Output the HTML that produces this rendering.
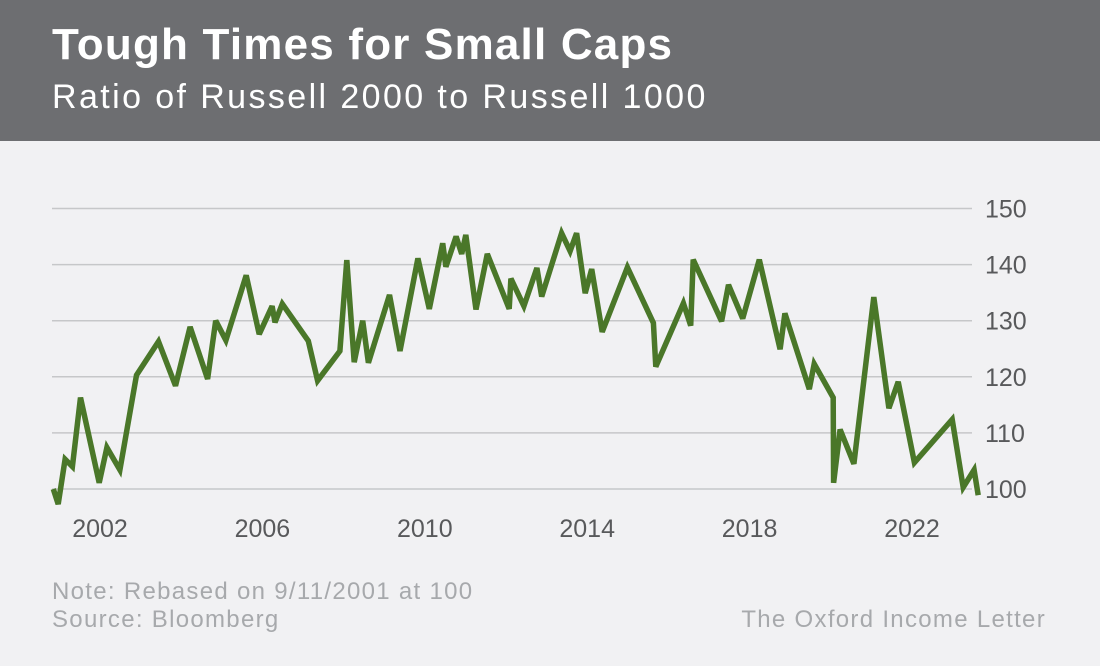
<!DOCTYPE html>
<html><head><meta charset="utf-8">
<style>
body{margin:0;width:1100px;height:666px;background:#f1f1f3;font-family:"Liberation Sans",sans-serif;overflow:hidden;position:relative}
#hdr{position:absolute;left:0;top:0;width:1100px;height:141px;background:#6d6e71}
#title{position:absolute;left:52px;top:20px;color:#fff;font-size:44px;font-weight:bold;letter-spacing:1.2px}
#sub{position:absolute;left:52px;top:78px;color:#fff;font-size:34px;letter-spacing:2.4px}
.foot{position:absolute;color:#a7a9ac;font-size:24px;letter-spacing:1.3px}
svg{position:absolute;left:0;top:0}
</style></head><body>
<div id="hdr"></div>
<div id="title">Tough Times for Small Caps</div>
<div id="sub">Ratio of Russell 2000 to Russell 1000</div>
<svg id="chart" width="1100" height="666"></svg>
<div class="foot" style="left:52px;top:578px">Note: Rebased on 9/11/2001 at 100</div>
<div class="foot" style="left:52px;top:606px">Source: Bloomberg</div>
<div class="foot" style="right:54px;top:606px">The Oxford Income Letter</div>
<script>
const yTicks=[100,110,120,130,140,150];
const xTicks=[2002,2006,2010,2014,2018,2022];
const years=[2000.85,2000.97,2001.14,2001.32,2001.52,2001.98,2002.17,2002.49,2002.90,2003.44,2003.86,2004.22,2004.65,2004.85,2005.10,2005.60,2005.92,2006.24,2006.31,2006.49,2007.13,2007.36,2007.91,2008.08,2008.26,2008.47,2008.61,2009.13,2009.39,2009.83,2010.11,2010.44,2010.52,2010.77,2010.91,2011.01,2011.26,2011.54,2012.08,2012.12,2012.44,2012.76,2012.88,2013.37,2013.58,2013.74,2013.95,2014.11,2014.37,2014.99,2015.63,2015.69,2016.37,2016.55,2016.61,2017.31,2017.48,2017.83,2018.24,2018.75,2018.87,2019.47,2019.59,2020.06,2020.07,2020.23,2020.57,2021.06,2021.43,2021.66,2022.06,2022.99,2023.26,2023.53,2023.63];
const values=[100,97.3,105.3,104,116.3,101.1,107.4,103.4,120.3,126.3,118.4,128.9,119.6,130,126.5,138.1,127.6,132.6,129.7,133,126.4,119.3,124.6,140.8,122.6,130,122.5,134.6,124.6,141.1,132.1,143.8,139.6,145,141.9,145.3,132,141.9,132.1,137.5,132.6,139.4,134.3,145.6,142.4,145.6,134.9,139.2,128,139.5,129.6,121.8,133.1,129.1,140.9,129.9,136.4,130.4,140.9,124.9,131.3,117.8,122.3,116.3,101.1,110.6,104.5,134.2,114.4,119.1,104.7,112.4,100.3,103.4,98.9];
const NS='http://www.w3.org/2000/svg';
const svg=document.getElementById('chart');
const X=y=>100+(y-2002)*40.6;
const Y=v=>489-(v-100)*5.61;
function mk(t,a){const e=document.createElementNS(NS,t);for(const k in a)e.setAttribute(k,a[k]);svg.appendChild(e);return e;}
yTicks.forEach(v=>{
  const l=mk('line',{x1:52,x2:972,y1:Y(v),y2:Y(v),stroke:'#c6c7c9','stroke-width':1.5});
  
  
  const t=mk('text',{x:985,y:Y(v)+9,'font-size':25,fill:'#58595b','font-family':'Liberation Sans, sans-serif'});
  t.textContent=v;
  
  
});
xTicks.forEach(yr=>{
  const t=mk('text',{x:X(yr),y:537,'font-size':25,fill:'#58595b','text-anchor':'middle','font-family':'Liberation Sans, sans-serif'});
  t.textContent=yr;
  
  
});
const d=years.map((y,i)=>(i?'L':'M')+X(y).toFixed(1)+','+Y(values[i]).toFixed(1)).join(' ');
const p=mk('path',{d:d,fill:'none',stroke:'#4a7729','stroke-width':5.5,'stroke-linejoin':'miter','stroke-miterlimit':3});


</script>
</body></html>
